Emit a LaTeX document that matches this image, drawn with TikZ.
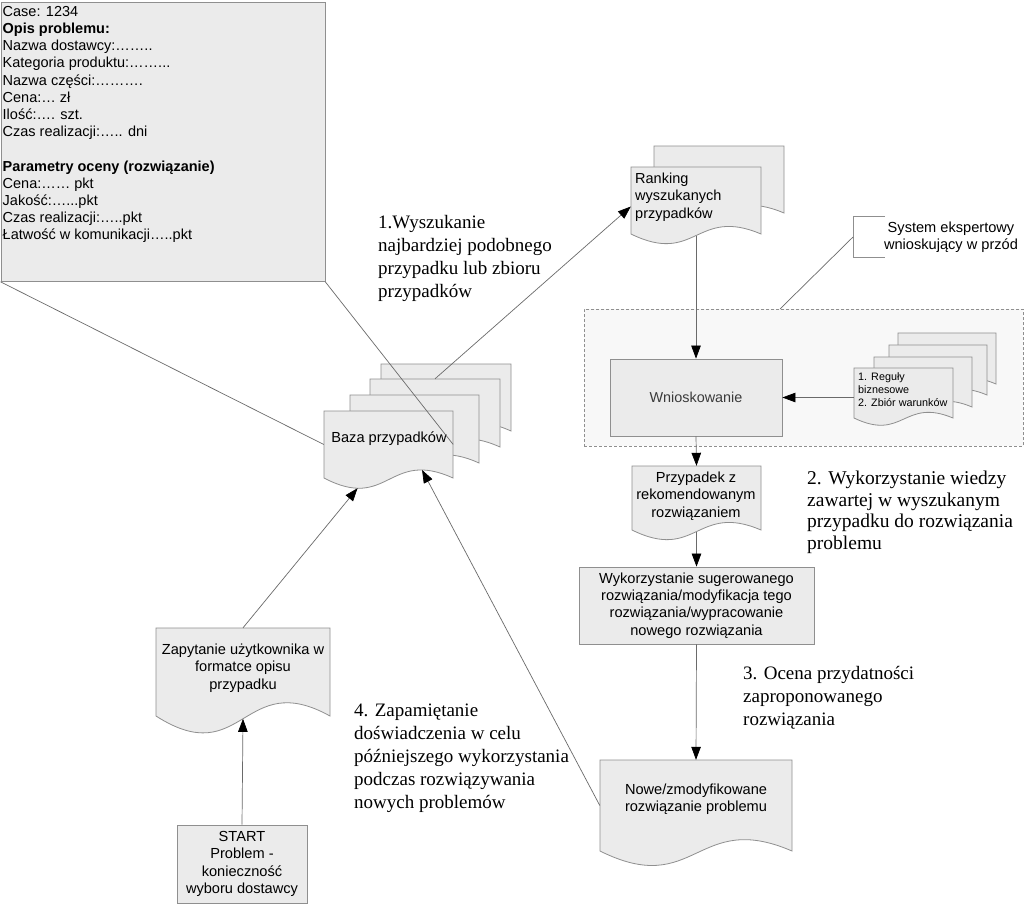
\documentclass[tikz,border=0pt]{standalone}
\usepackage{fontspec}
\setmainfont{Liberation Sans}
\newfontfamily\seriffont{Liberation Serif}
\usetikzlibrary{arrows.meta,calc}
\definecolor{docfill}{HTML}{EBEBEB}
\definecolor{bord}{HTML}{8F8F8F}
\definecolor{connc}{HTML}{6A6A6A}
\definecolor{dfill}{HTML}{F8F8F8}
\definecolor{wtext}{HTML}{3A3A3A}
% [extra] name x0 y0 x1 yb amp
\newcommand\docshape[7][]{%
  \path[docpath,#1] (#3,#4) -- (#5,#4) -- (#5,#6) .. controls ({(#3+#5)/2},{#6-3.46*#7}) and ({(#3+#5)/2},{#6+3.98*#7}) .. (#3,#6) -- cycle;
  \node[inner sep=0, minimum width={(#5-#3)*1pt}, minimum height={(#6-#4)*1pt}] (#2) at ({(#3+#5)/2},{(#4+#6)/2}) {};
  \coordinate (#2-lo) at ({#3+0.26*(#5-#3)},{#6+1.2*#7});
  \coordinate (#2-hi) at ({#3+0.76*(#5-#3)},{#6-0.95*#7});
  \coordinate (#2-mid) at ({(#3+#5)/2},{#6+0.2*#7});
}
\begin{document}
\begin{tikzpicture}[x=1pt,y=-1pt,
  docpath/.style={fill=docfill, draw=bord, line width=0.8pt},
  boxst/.style={fill=docfill, draw=bord, line width=0.8pt, inner sep=0},
  txt/.style={inner sep=0, align=center, font=\fontsize{14.6}{17.4}\selectfont},
  txtl/.style={inner sep=0, align=left, anchor=north west, font=\fontsize{14.5}{17.2}\selectfont},
  lbl/.style={inner sep=0, align=left, anchor=north west, font=\seriffont\fontsize{19}{23}\selectfont},
  conn/.style={draw=connc, line width=0.7pt},
  arr/.style={conn, -{Triangle[length=13pt,width=9.5pt,color=black,fill=black]}}
]
\useasboundingbox (0,0) rectangle (1024,903);
\fill[white] (0,0) rectangle (1024,903);

% callout
\node[boxst, minimum width=324pt, minimum height=279pt, anchor=north west] (callout) at (0.5,2) {};
\node[txtl] (callouttxt) at (2.5,6) {Case: 1234\\
\textbf{Opis problemu:}\\
Nazwa dostawcy:……..\\
Kategoria produktu:……...\\
Nazwa części:……….\\
Cena:… zł\\
Ilość:…. szt.\\
Czas realizacji:….. dni\\[17.2pt]
\textbf{Parametry oceny (rozwiązanie)}\\
Cena:…… pkt\\
Jakość:…...pkt\\
Czas realizacji:…..pkt\\
Łatwość w komunikacji…..pkt};

% dashed group
\node[draw=bord, fill=dfill, dash pattern=on 3pt off 2pt, line width=0.7pt, minimum width=439pt, minimum height=137pt, anchor=north west, inner sep=0] (dbox) at (584,309) {};
\coordinate (sysend) at ($(dbox.north west)+(196,0)$);

% system bracket
\draw[draw=bord, line width=0.8pt] (885,216) -- (853,216) -- (853,257) -- (885,257);
\coordinate (sysbr) at (853,237);
\node[txt] (systxt) at (951,237) {System ekspertowy\\wnioskujący w przód};

% Wnioskowanie
\node[boxst, minimum width=172pt, minimum height=77pt, font=\fontsize{14.4}{17}\selectfont, text=wtext] (wnio) at (696,397.5) {Wnioskowanie};

% rules docs
\docshape{rul4}{898}{333}{996}{384}{6}
\docshape{rul3}{889}{345}{987}{395}{6}
\docshape{rul2}{874}{357}{972}{407}{6}
\docshape{rul}{854}{368}{953}{418}{6}
\node[inner sep=0, align=left, anchor=north west, font=\fontsize{10.8}{13}\selectfont] (rultxt) at (858,372) {1. Reguły\\biznesowe\\2. Zbiór warunków};

% ranking
\docshape{rank2}{654}{146}{784}{213}{8}
\docshape{rank}{631}{167}{761}{234}{8}
\node[txtl] (ranktxt) at (635,173) {Ranking\\wyszukanych\\przypadków};

% baza stack
\docshape{baza4}{381}{364}{511}{431}{8.5}
\docshape{baza3}{370}{379}{500}{447}{8.5}
\docshape{baza2}{350}{395}{479}{463}{8.5}
\docshape{baza}{324}{411}{453}{478}{8.5}
\node[txt] (bazatxt) at (389,439) {Baza przypadków};

% przypadek
\docshape{przyp}{632}{466}{761}{530}{8}
\node[txt] (przyptxt) at (696,496) {Przypadek z\\rekomendowanym\\rozwiązaniem};

% wykorzystanie
\node[boxst, minimum width=235pt, minimum height=77pt, align=center, font=\fontsize{14.6}{17.4}\selectfont] (wyk) at (696.5,605.5) {Wykorzystanie sugerowanego\\rozwiązania/modyfikacja tego\\rozwiązania/wypracowanie\\nowego rozwiązania};

% nowe
\docshape{nowe}{600}{760}{792}{851}{12}
\node[txt] (nowetxt) at (696,799) {Nowe/zmodyfikowane\\rozwiązanie problemu};

% zapytanie
\docshape{zap}{156}{628}{330}{716}{14}
\node[txt] (zaptxt) at (243,668) {Zapytanie użytkownika w\\formatce opisu\\przypadku};

% start
\node[boxst, minimum width=130pt, minimum height=78pt, align=center, font=\fontsize{14.6}{17.4}\selectfont] (start) at (242,864) {START\\Problem -\\konieczność\\wyboru dostawcy};

% serif labels
\node[lbl] (l1) at (378,215) {1.Wyszukanie\\najbardziej podobnego\\przypadku lub zbioru\\przypadków};
\node[lbl, font=\seriffont\fontsize{19.5}{21.5}\selectfont] (l2) at (807,471) {2. Wykorzystanie wiedzy\\zawartej w wyszukanym\\przypadku do rozwiązania\\problemu};
\node[lbl] (l3) at (743,666) {3. Ocena przydatności\\zaproponowanego\\rozwiązania};
\node[lbl] (l4) at (354,704) {4. Zapamiętanie\\doświadczenia w celu\\późniejszego wykorzystania\\podczas rozwiązywania\\nowych problemów};

% connectors
\draw[conn] (callout.south west) -- (baza.west);
\draw[conn] (callout.south east) -- (baza.east);
\draw[conn] (sysbr) -- (sysend);
\draw[arr] (baza3.north) -- ($(rank.west)+(0,6)$);
\draw[arr] (rank-mid) -- (wnio.north);
\draw[arr] (rul.west |- wnio.east) -- (wnio.east);
\draw[arr] (wnio.south) -- (przyp.north);
\draw[arr] (przyp-mid) -- (wyk.north);
\draw[arr] (wyk.south) -- (nowe.north);
\draw[arr] (nowe.west) -- (baza-hi);
\draw[arr] (zap.north) -- (baza-lo);
\draw[arr] (start.north) -- (zap-mid);
\end{tikzpicture}
\end{document}
